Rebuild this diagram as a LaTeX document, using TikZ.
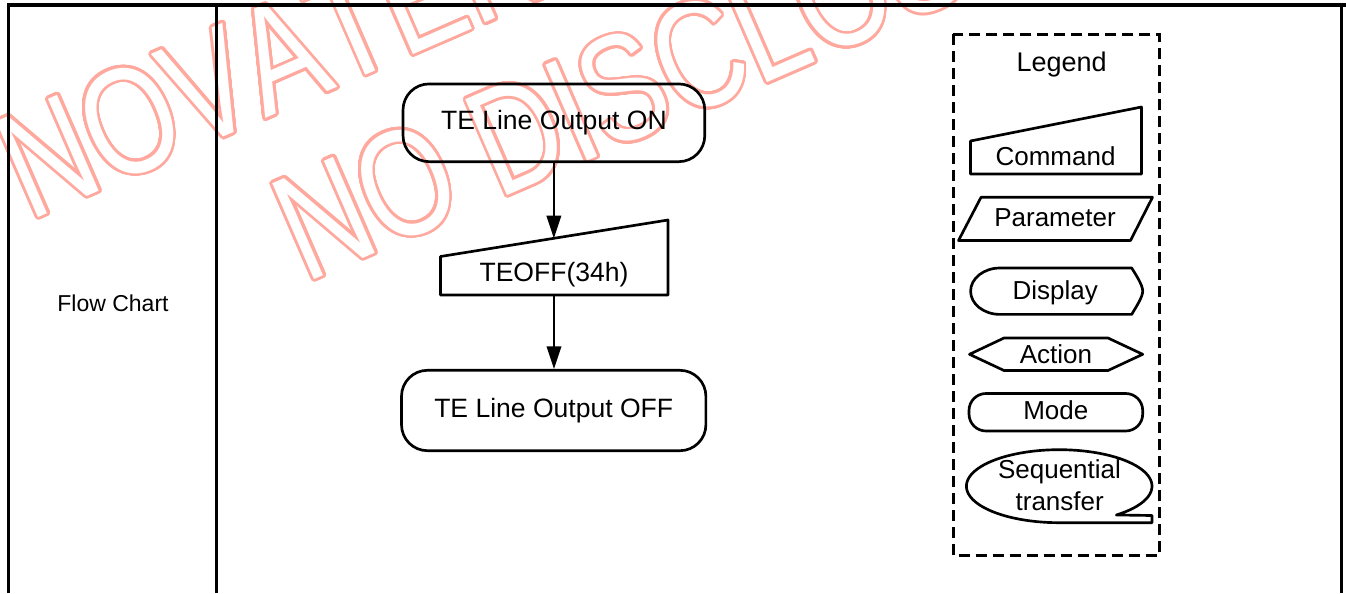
\documentclass[tikz,border=0pt]{standalone}
\usepackage{fontspec}
\setmainfont{Liberation Sans}
\newfontfamily\wmfont{Liberation Sans}[Kerning=Off]
\usepackage{contour}
\usetikzlibrary{arrows.meta}
\definecolor{wmpink}{RGB}{255,168,158}
\contourlength{2.1pt}
\contournumber{32}
\begin{document}
\begin{tikzpicture}[x=0.75pt,y=-0.75pt,
  tline/.style={line width=2.5pt},
  shp/.style={draw, line width=2pt, line join=round},
  arr/.style={line width=1.1pt, -{Triangle[length=17pt,width=11pt]}},
  term/.style={shp, rounded corners=19.5pt, inner sep=0pt, font=\fontsize{19.9}{24}\selectfont},
  txt/.style={inner sep=0pt, font=\fontsize{19.9}{24}\selectfont},
  legtxt/.style={inner sep=0pt, font=\fontsize{19.5}{23}\selectfont},
  legbox/.style={line width=2.2pt, dash pattern=on 8.25pt off 4.5pt},
  wmtext/.style={rotate=23.5, inner sep=0pt, outer sep=0pt, text=white, font=\wmfont\fontsize{114}{120}\selectfont}]
\useasboundingbox (0,0) rectangle (1346,593);
% watermark
\begin{scope}
\clip (0,0) rectangle (1346,593);
\node[wmtext, anchor=base west] (wmA) at (29.7,221.2) {\contour{wmpink}{\scalebox{0.78}[1]{NOVATEK}}};
\node[wmtext, anchor=base west] (wmB) at (305.7,283.2) {\contour{wmpink}{\scalebox{0.78}[1]{NO DISCLOSURE}}};
\end{scope}
% table lines
\draw[tline] (7,5) -- (1346,5);
\draw[tline] (8.3,5) -- (8.3,593);
\draw[tline] (216.7,5) -- (216.7,593);
\draw[tline] (1341.3,5) -- (1341.3,593);
\node[inner sep=0pt, anchor=base, font=\fontsize{17.25}{21}\selectfont] (fc) at (113,311) {Flow Chart};
% flow
\node[term, minimum width=226.3pt, minimum height=58.3pt] (on) at (553.9,122.8) {TE Line Output ON};
\draw[shp] (440.5,256.5) -- (668,220) -- (668,295) -- (440.5,295) -- cycle;
\node[txt, anchor=base] (teoff) at (554,281.7) {TEOFF(34h)};
\coordinate (teoffin) at (554,238.3);
\coordinate (teoffout) at (554,295);
\node[term, minimum width=228.3pt, minimum height=60.3pt] (off) at (553.7,410.5) {TE Line Output OFF};
\draw[arr] (on.south) -- (on.south |- teoffin);
\draw[arr] (teoffout) -- (teoffout |- off.north);
% legend
\draw[legbox] (953.2,34.2) rectangle (1159.2,555.8);
\node[inner sep=0pt, anchor=base, font=\fontsize{20.25}{24}\selectfont] (legtitle) at (1061.7,71.7) {Legend};
\draw[shp] (970.5,141) -- (1141.5,107) -- (1141.5,174) -- (970.5,174) -- cycle;
\node[legtxt, anchor=base] (lcmd) at (1055.5,165) {Command};
\draw[shp] (958.5,240.5) -- (981,197.3) -- (1152.5,197.3) -- (1130.5,240.5) -- cycle;
\node[legtxt, anchor=base] (lpar) at (1055,226.7) {Parameter};
\draw[shp] (1000,268) -- (1131.7,268) .. controls (1136,275) and (1142.7,285) .. (1142.7,291.2)
  .. controls (1142.7,297) and (1136,307) .. (1131.7,314.4) -- (1000,314.4)
  .. controls (983.8,314.4) and (970.6,304) .. (970.6,291.2)
  .. controls (970.6,278.4) and (983.8,268) .. (1000,268) -- cycle;
\node[legtxt, anchor=base] (ldisp) at (1055.3,299) {Display};
\draw[shp] (969.5,354.3) -- (1004,338) -- (1108,338) -- (1142.7,354.3) -- (1108,370.5) -- (1004,370.5) -- cycle;
\node[legtxt, anchor=base] (lact) at (1056,363.3) {Action};
\draw[shp, rounded corners=12.75pt] (969,393.5) rectangle (1142.7,431);
\node[legtxt, anchor=base] (lmode) at (1055.8,419) {Mode};
\draw[shp] plot[domain=90:412, samples=90, smooth] ({1059.2+92.8*cos(\x)},{486.2+36.5*sin(\x)}) -- (1152,515.5) -- (1152,522.7) -- cycle;
\node[legtxt, anchor=base] (lseq1) at (1059.5,478) {Sequential};
\node[legtxt, anchor=base] (lseq2) at (1059.7,510.5) {transfer};
\end{tikzpicture}
\end{document}
